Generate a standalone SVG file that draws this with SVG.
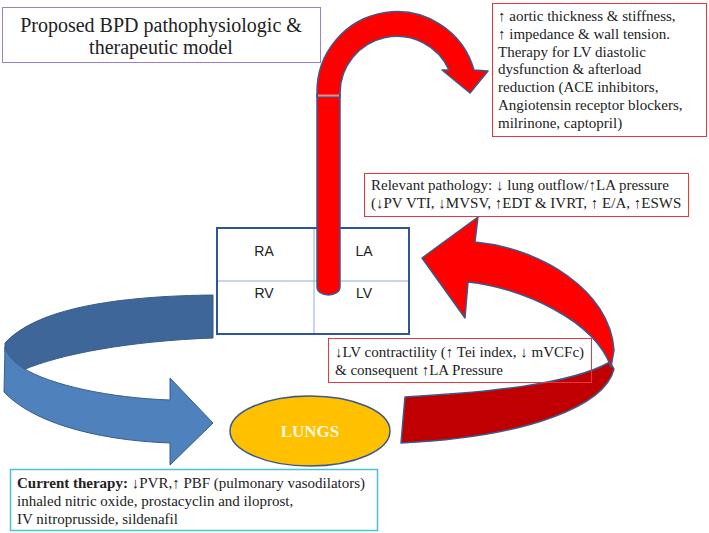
<svg xmlns="http://www.w3.org/2000/svg" width="709" height="533" viewBox="0 0 709 533">
<style>
.rbox{fill:none;stroke:#e8383d;stroke-width:1}
.redfill{fill:#ff0000;stroke:#3b5a8c;stroke-width:1.5;stroke-linejoin:round}
.blueL{fill:#4f81bd;stroke:#385d8a;stroke-width:1}
.blueD{fill:#3e6698;stroke:#385d8a;stroke-width:1}
</style>
<rect width="709" height="533" fill="#fff"/>

<g id="title">
<rect x="2.5" y="7.5" width="318" height="55" fill="#fff" stroke="#9b7fc4" stroke-width="1"/>
<text font-family="Liberation Serif, serif" font-size="20" fill="#222" x="161" y="32" text-anchor="middle">Proposed BPD pathophysiologic &amp;</text>
<text font-family="Liberation Serif, serif" font-size="20" fill="#222" x="161" y="54" text-anchor="middle">therapeutic model</text>
</g>

<g id="connectors">
<path class="blueD" d="M213,295 C130,296 40,305 5,343 L5,352 C10,360 16,365 23,370 C60,354 130,341 213,338 Z"/>
<path class="blueL" d="M5,347 L4,392 C30,420 90,440 170,443 L170,465 L213,423 L170,378 L170,400 C110,398 50,385 23,368 C14,362 7,355 5,347 Z"/>
<path fill="#c00000" stroke="#3b5a8c" stroke-width="1.5" stroke-linejoin="round" d="M405,397 C480,393 570,385 610,362 L614,369 C605,405 530,437 401,443 Z"/>
<path class="redfill" d="M478,217 L422,258 L465,318 L468,282 C520,287 595,320 611,367 L614,350 C610,290 540,248 475,242 Z"/>
</g>

<g id="heart">
<rect x="217" y="228" width="192" height="106" fill="#fff" stroke="#2f5597" stroke-width="2"/>
<line x1="314" y1="229" x2="314" y2="333" stroke="#8eaadb" stroke-width="1"/>
<line x1="218" y1="281" x2="408" y2="281" stroke="#8eaadb" stroke-width="1"/>
<text font-family="Liberation Sans, sans-serif" font-size="14" fill="#222" text-anchor="middle" x="264" y="256">RA</text>
<text font-family="Liberation Sans, sans-serif" font-size="14" fill="#222" text-anchor="middle" x="364" y="256">LA</text>
<text font-family="Liberation Sans, sans-serif" font-size="14" fill="#222" text-anchor="middle" x="264" y="298">RV</text>
<text font-family="Liberation Sans, sans-serif" font-size="14" fill="#222" text-anchor="middle" x="364" y="298">LV</text>
</g>

<g id="aorta">
<path class="redfill" d="M317,94 V287 A11.5,8 0 0 0 340,287 V94 Z"/>
<path class="redfill" d="M317,97 L317,93 A80,80 0 0 1 474,70 L488,71 L470,93 L442,70 L449,70 A57,57 0 0 0 340,93 L340,97 Z"/>
<line x1="318" y1="95.5" x2="339" y2="95.5" stroke="#f08a8a" stroke-width="2"/>
</g>

<g id="lungs">
<ellipse cx="310" cy="431" rx="80" ry="35" fill="#ffc000" stroke="#3b5a8c" stroke-width="1.5"/>
<text x="310" y="437" text-anchor="middle" font-family="Liberation Serif, serif" font-weight="bold" font-size="17" fill="#fff8e0">LUNGS</text>
</g>

<g id="box-aortic">
<rect class="rbox" x="492.5" y="3.5" width="214" height="133" fill="#fff"/>
<text font-family="Liberation Serif, serif" font-size="15" fill="#222"><tspan x="498" y="21">↑ aortic thickness &amp; stiffness,</tspan><tspan x="498" y="39">↑ impedance &amp; wall tension.</tspan><tspan x="498" y="57">Therapy for LV diastolic</tspan><tspan x="498" y="74">dysfunction &amp; afterload</tspan><tspan x="498" y="92">reduction (ACE inhibitors,</tspan><tspan x="498" y="110">Angiotensin receptor blockers,</tspan><tspan x="498" y="128">milrinone, captopril)</tspan></text>
</g>

<g id="box-pathology">
<rect class="rbox" x="364.5" y="173.5" width="324" height="43" fill="#fff"/>
<text font-family="Liberation Serif, serif" font-size="15" fill="#222"><tspan x="371" y="190">Relevant pathology: ↓ lung outflow/↑LA pressure</tspan><tspan x="371" y="208">(↓PV VTI, ↓MVSV, ↑EDT &amp; IVRT, ↑ E/A, ↑ESWS</tspan></text>
</g>

<g id="box-lv">
<rect class="rbox" x="328.5" y="338.5" width="263" height="44"/>
<text font-family="Liberation Serif, serif" font-size="15" fill="#222"><tspan x="335" y="357">↓LV contractility (↑ Tei index, ↓ mVCFc)</tspan><tspan x="335" y="375">&amp; consequent ↑LA Pressure</tspan></text>
</g>

<g id="box-therapy">
<rect x="10.5" y="469.5" width="367" height="61" fill="#fff" stroke="#4bc0d9" stroke-width="1.5"/>
<text font-family="Liberation Serif, serif" font-size="15" fill="#222"><tspan x="17" y="488"><tspan font-weight="bold">Current therapy:</tspan> ↓PVR,↑ PBF (pulmonary vasodilators)</tspan><tspan x="17" y="506">inhaled nitric oxide, prostacyclin and iloprost,</tspan><tspan x="17" y="524">IV nitroprusside, sildenafil</tspan></text>
</g>
</svg>
